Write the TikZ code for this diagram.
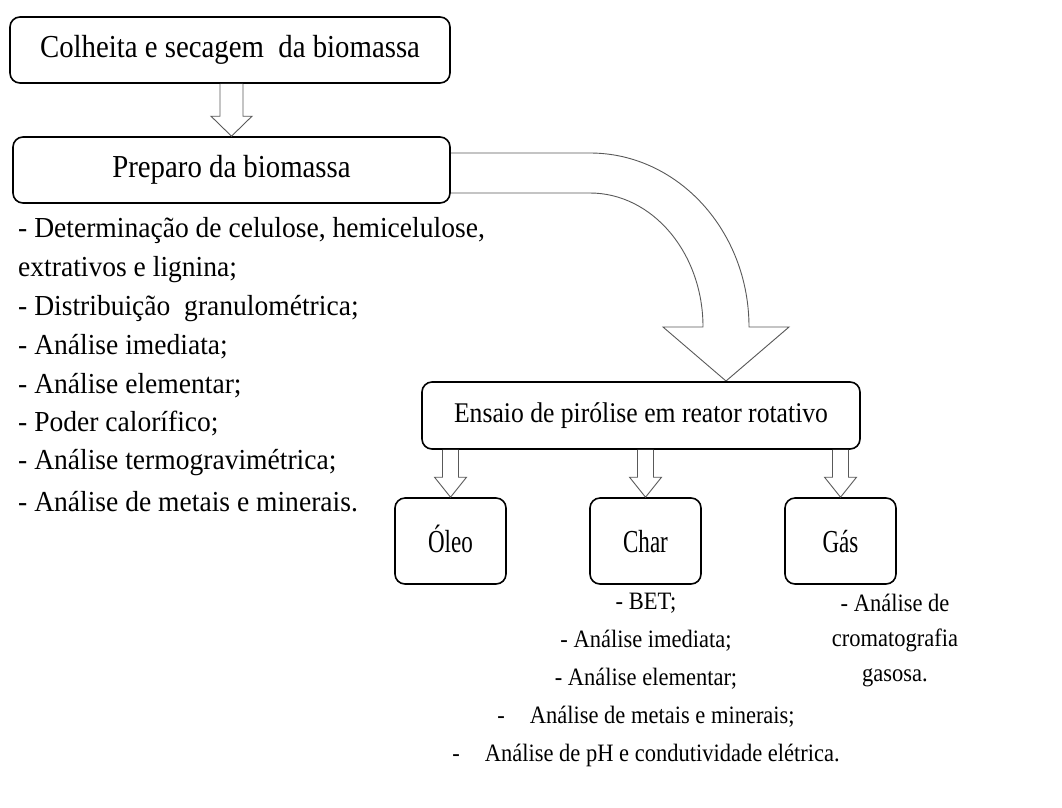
\documentclass[tikz,border=0pt]{standalone}
\usepackage{fontspec}
\setmainfont{Liberation Serif}[FakeStretch=0.9]
\newfontfamily\condfont{Liberation Serif}[FakeStretch=0.72]
\newfontfamily\listfam{Liberation Serif}[FakeStretch=0.95]
\usetikzlibrary{calc}
\tikzset{
  box/.style={draw=black, line width=1.6pt, rounded corners=10pt, fill=white, inner sep=0pt},
  fatarrow/.style={draw=black!65, line width=0.9pt, fill=white, line join=miter},
  boxfont/.style={font=\fontsize{32}{36}\selectfont, text height=21pt, text depth=6pt},
  midfont/.style={font=\fontsize{28.5}{32}\selectfont, text height=19pt, text depth=6pt},
  smallfont/.style={font=\condfont\fontsize{32}{36}\selectfont, text height=22pt, text depth=0pt},
  listfont/.style={font=\listfam\fontsize{29}{32}\selectfont, inner sep=0pt},
  sublistfont/.style={font=\fontsize{25}{30}\selectfont, inner sep=0pt},
}
\newcommand\blockdown[5]{%
  \draw[fatarrow] let \p1=(#1), \p2=(#2) in
    (\x2-#3,\y1) -- (\x2-#3,\y2+#5) -- (\x2-#4,\y2+#5) -- (\x2,\y2)
    -- (\x2+#4,\y2+#5) -- (\x2+#3,\y2+#5) -- (\x2+#3,\y1);}
\begin{document}
\begin{tikzpicture}[x=1pt,y=-1pt]
\useasboundingbox (0,0) rectangle (1062,807);
% curved arrow (drawn first, box covers its root)
\coordinate (ct) at (726,381);
\draw[fatarrow] (440,153) -- (590,153)
  .. controls (677.8,153) and (749,230.9) .. (749,327)
  -- (789,327) -- (ct) -- (663,327) -- (703,327)
  .. controls (703,253) and (652.4,193) .. (590,193)
  -- (440,193) -- cycle;
% boxes
\node[box, boxfont, minimum width=440pt, minimum height=66pt] (b1) at (230,50) {Colheita e secagem \ da biomassa};
\node[box, boxfont, minimum width=437pt, minimum height=66pt] (b2) at (231.5,170) {Preparo da biomassa};
\node[box, midfont, minimum width=438pt, minimum height=67pt] (b3) at (641,415.5) {Ensaio de pirólise em reator rotativo};
\node[box, smallfont, minimum width=111pt, minimum height=86pt] (oleo) at (450.5,541) {Óleo};
\node[box, smallfont, minimum width=111pt, minimum height=86pt] (char) at (645.5,541) {Char};
\node[box, smallfont, minimum width=111pt, minimum height=86pt] (gas) at (840.5,541) {Gás};
% straight block arrows
\blockdown{b1.south}{b2.north}{11.5pt}{20.5pt}{20pt}
\blockdown{b3.south -| oleo.north}{oleo.north}{8pt}{16pt}{20pt}
\blockdown{b3.south -| char.north}{char.north}{8pt}{16pt}{20pt}
\blockdown{b3.south -| gas.north}{gas.north}{8pt}{16pt}{20pt}
% left list
\foreach \t [count=\i] in {%
  {- Determinação de celulose, hemicelulose,},
  extrativos e lignina;,
  - Distribuição \ granulométrica;,
  - Análise imediata;,
  - Análise elementar;,
  - Poder calorífico;,
  - Análise termogravimétrica;,
  - Análise de metais e minerais.}
  \node[listfont, anchor=west] (l\i) at (18,{231+38.6*(\i-1)}) {\t};
% char list
\foreach \t [count=\i] in {%
  - BET;,
  - Análise imediata;,
  - Análise elementar;,
  -\quad Análise de metais e minerais;,
  -\quad Análise de pH e condutividade elétrica.}
  \node[sublistfont] (c\i) at (646,{603+38*(\i-1)}) {\t};
% gas list
\foreach \t [count=\i] in {- Análise de, cromatografia, gasosa.}
  \node[sublistfont] (g\i) at (895,{603+37.5*(\i-1)}) {\t};
\end{tikzpicture}
\end{document}
